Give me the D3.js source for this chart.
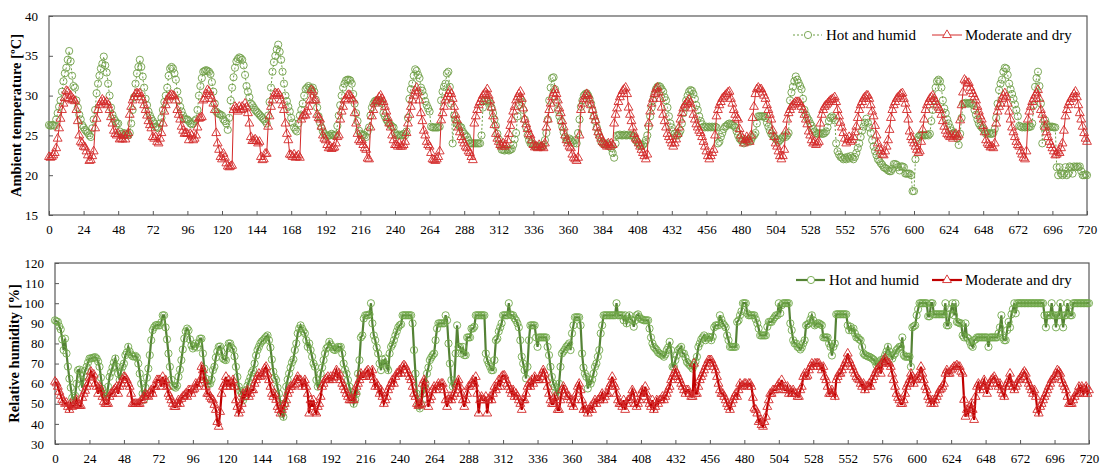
<!DOCTYPE html>
<html>
<head>
<meta charset="utf-8">
<script src="https://cdn.jsdelivr.net/npm/d3@7"></script>
<style>
  body { margin: 0; background: #fff; }
  text { font-family: "Liberation Serif", "Times New Roman", serif; }
</style>
</head>
<body>
<svg id="chart" width="1103" height="466"></svg>
<script>
// hourly values, index = hour (0..720)
const hourTicks = d3.range(0, 721, 24);
const tempTicks = [15, 20, 25, 30, 35, 40];
const rhTicks = [30, 40, 50, 60, 70, 80, 90, 100, 110, 120];
const seriesNames = ["Hot and humid", "Moderate and dry"];

const tempHotHumid = [
  26.3,26.2,26.3,26.3,26.2,27.0,27.8,28.6,29.4,30.5,31.8,32.8,33.5,34.5,35.6,34.3,32.5,31.2,31.0,29.4,28.5,27.6,27.0,26.3,
  26.0,25.7,25.5,25.3,25.0,24.8,25.9,27.0,28.2,30.3,31.5,32.5,33.4,34.0,34.9,33.8,32.9,31.5,30.0,28.5,27.6,27.1,26.8,26.5,
  26.5,25.5,25.2,25.0,25.3,25.1,25.2,25.0,25.3,26.5,28.2,29.8,31.5,32.8,33.6,34.5,33.6,32.4,31.0,29.6,28.8,28.0,27.5,27.1,
  26.8,26.5,26.1,26.0,25.9,26.5,27.2,28.2,29.2,30.0,31.0,32.5,33.4,33.6,33.4,32.8,32.0,30.5,29.4,28.6,28.0,27.5,27.1,27.0,
  27.0,26.8,26.5,26.4,26.5,26.8,27.0,28.2,30.0,31.2,32.2,33.0,33.1,33.2,33.1,33.0,32.7,31.7,30.5,29.0,28.0,27.8,27.7,27.6,
  27.5,27.0,26.8,26.5,25.7,27.2,29.4,31.0,32.3,33.5,34.3,34.6,34.8,34.7,34.5,33.8,32.6,31.2,30.5,29.8,29.0,28.8,28.5,28.2,
  28.0,27.8,27.6,27.4,27.2,27.0,26.8,26.5,27.5,29.2,31.0,33.0,34.2,35.0,35.8,36.4,35.5,34.5,33.0,31.5,30.0,29.3,28.6,28.0,
  27.2,26.6,26.0,25.7,25.5,26.5,27.5,28.2,29.0,30.0,30.8,31.0,31.2,31.0,30.8,31.0,30.5,29.5,28.5,27.4,26.6,26.0,25.5,25.2,
  25.0,24.9,25.0,25.0,25.2,25.0,25.0,25.1,26.2,27.5,28.8,30.0,31.0,31.5,31.9,32.0,32.0,31.9,31.5,30.2,29.0,27.8,26.8,25.6,
  25.2,25.0,25.1,25.0,24.8,25.5,26.0,27.5,28.5,29.0,29.3,29.4,29.3,29.4,29.2,29.0,27.8,27.4,27.0,26.7,26.5,26.3,26.1,26.0,
  25.3,25.0,25.0,25.1,25.0,25.0,25.2,25.0,25.5,27.2,29.6,30.8,31.5,32.5,33.3,33.1,32.6,32.2,31.0,30.6,30.0,29.3,28.8,28.4,
  28.0,26.1,26.0,26.0,26.0,26.0,26.0,26.1,29.4,30.5,31.1,31.5,32.8,33.0,31.1,29.0,24.0,27.5,27.0,26.5,26.3,26.1,26.0,25.5,
  25.2,25.0,24.8,24.4,24.0,24.0,24.0,24.0,24.0,24.0,24.0,24.0,25.0,28.5,29.4,29.4,29.3,29.4,29.0,28.5,27.8,27.0,26.2,25.2,
  24.5,23.8,23.2,23.2,23.1,23.2,23.2,23.1,23.2,23.3,23.8,24.5,25.3,27.4,28.8,29.6,29.2,28.2,27.0,26.0,25.0,24.4,24.0,24.0,
  23.8,23.6,23.6,23.6,23.7,23.6,23.6,23.8,24.4,25.3,27.0,29.4,31.0,32.2,32.3,30.8,29.2,28.2,27.4,26.8,26.1,25.4,24.8,24.4,
  24.4,24.6,24.4,24.2,24.0,24.4,24.0,25.3,27.0,28.6,29.4,30.0,30.2,30.3,30.0,29.6,29.0,28.2,27.4,26.8,26.0,25.3,24.8,24.2,
  24.0,24.0,23.8,24.0,23.8,23.6,23.4,22.8,22.2,24.0,25.0,25.0,25.1,25.0,25.0,25.1,25.0,25.0,25.1,25.0,25.0,25.0,24.8,24.4,
  24.2,24.0,23.8,23.6,23.8,24.0,24.4,25.0,26.1,27.4,28.5,29.4,30.2,30.8,31.1,31.2,31.1,30.8,30.5,29.8,29.4,28.5,27.4,26.5,
  26.0,25.5,25.2,25.0,25.0,25.2,25.6,26.5,27.8,28.6,29.4,30.0,30.5,30.7,30.6,30.2,29.6,28.8,28.2,27.4,26.8,26.4,26.1,26.0,
  26.1,26.0,26.1,26.0,26.1,26.0,26.1,26.0,24.0,24.2,24.8,25.3,25.8,26.1,26.2,26.4,26.5,26.4,26.3,26.2,26.0,25.5,25.0,24.6,
  24.4,24.2,24.0,24.4,24.2,24.4,24.2,24.4,24.8,25.0,25.3,26.5,27.4,27.4,27.4,27.4,27.4,27.2,26.6,26.1,25.6,25.2,25.0,24.8,
  24.6,24.4,24.2,24.4,24.6,24.8,25.0,24.8,25.0,25.3,29.4,30.4,31.1,31.8,32.4,32.0,31.6,31.2,30.8,29.6,28.2,27.6,27.2,26.9,
  26.5,26.2,25.8,25.5,25.3,25.2,25.2,25.3,25.2,25.2,25.3,25.5,26.0,26.8,27.2,27.4,27.2,26.9,24.0,23.0,22.6,22.3,22.2,22.0,
  22.2,22.0,22.3,22.1,22.4,22.2,22.0,22.3,22.8,23.4,24.0,24.8,25.6,26.1,26.6,27.1,26.6,26.0,25.3,24.4,23.6,23.0,22.5,22.0,
  21.8,21.5,21.3,21.0,20.9,20.8,20.6,20.5,20.5,20.8,21.4,21.4,21.3,21.0,20.6,21.1,21.1,21.0,20.2,20.2,20.2,20.2,20.0,18.0,
  18.0,22.0,24.4,24.8,25.0,25.0,25.1,25.0,25.0,25.1,25.0,25.2,26.8,28.2,29.4,31.0,31.8,32.0,31.8,31.0,29.4,28.4,27.8,27.0,
  26.5,26.0,25.6,25.3,25.2,25.0,24.6,23.8,25.2,27.2,29.0,29.0,29.1,29.0,29.0,29.1,29.0,28.8,28.2,27.6,27.0,26.5,26.2,26.0,
  25.8,25.5,25.2,25.2,25.3,25.2,25.2,25.3,25.8,27.2,29.0,30.7,31.5,32.0,33.0,33.5,33.4,32.6,31.5,30.8,30.2,29.6,28.9,28.2,
  27.4,26.2,26.1,26.0,26.1,26.0,26.1,26.0,26.1,26.1,26.5,28.8,31.1,32.2,33.0,31.2,29.0,24.0,26.0,26.9,26.4,26.1,26.0,26.1,
  26.1,26.0,26.0,21.0,20.0,21.0,20.2,20.0,20.2,21.0,20.0,20.2,21.1,21.0,20.2,21.1,21.0,21.1,21.0,21.1,20.5,20.0,20.0,20.1,20.0
];

const tempModDry = [
  22.3,22.2,22.3,22.5,22.8,23.4,24.6,25.9,27.1,28.2,29.0,29.7,30.6,30.5,29.6,30.0,29.4,29.5,29.3,28.2,26.8,25.0,24.2,24.0,
  23.6,23.5,23.0,22.5,21.8,21.9,22.4,23.0,25.9,27.1,28.2,28.8,29.2,29.5,29.3,29.0,29.2,28.8,28.2,27.3,26.5,25.6,25.2,25.0,
  25.2,24.5,24.6,24.5,25.0,24.5,25.0,25.3,27.6,28.6,29.4,29.8,30.2,30.3,30.2,30.3,29.8,29.4,28.8,28.2,27.5,26.8,26.3,25.9,
  24.8,24.6,24.8,24.2,24.0,24.6,25.3,26.5,28.0,28.8,29.4,29.8,30.0,30.1,30.0,29.9,29.4,28.2,27.6,27.0,26.1,25.6,25.2,25.3,
  25.2,24.4,25.2,25.0,24.4,24.6,25.0,26.0,27.1,27.2,27.3,29.4,29.6,30.2,30.7,30.5,30.0,29.6,29.0,28.2,25.3,24.0,23.2,22.3,
  22.0,22.7,22.2,21.5,21.1,21.0,21.1,21.2,28.2,28.6,28.4,28.0,28.6,28.2,28.6,28.3,29.0,28.5,27.8,26.5,24.8,24.3,24.3,24.5,
  24.3,24.0,24.2,22.3,21.9,22.0,22.7,22.7,26.1,27.4,28.6,29.4,30.0,30.3,30.2,30.3,30.0,29.4,28.8,28.2,26.5,25.2,24.4,22.6,
  22.5,22.3,22.6,22.2,22.3,22.5,22.2,27.0,27.4,27.6,27.5,28.0,28.6,29.4,30.7,30.5,29.4,29.4,27.6,27.2,27.0,26.1,25.0,24.6,
  24.4,23.8,23.4,23.6,23.3,23.4,23.5,24.0,24.8,25.0,27.0,28.0,28.6,29.4,29.6,30.0,30.1,30.0,29.6,29.4,27.8,26.5,25.2,24.4,
  24.2,24.4,23.8,23.4,23.2,22.1,22.0,26.0,27.4,28.2,29.0,29.3,29.4,29.8,30.0,29.6,29.2,28.6,28.0,27.2,26.5,26.0,25.0,24.4,
  23.8,23.8,23.6,24.0,23.6,23.6,23.8,24.2,25.3,26.5,27.6,28.6,29.4,30.0,30.6,31.0,30.4,29.4,27.8,26.8,25.6,25.0,24.2,23.8,
  23.6,22.8,22.0,21.9,21.8,22.0,22.3,23.0,26.9,27.8,28.6,29.4,29.8,30.2,30.6,30.2,29.6,28.6,27.6,26.9,26.0,25.4,24.8,24.4,
  24.0,23.6,23.4,23.0,22.8,22.3,21.9,26.5,27.4,28.2,28.8,29.2,29.6,30.0,30.2,30.4,30.8,30.0,29.4,28.5,27.4,26.3,25.2,24.6,
  24.2,23.8,23.6,24.0,23.6,23.8,24.4,25.2,26.2,27.0,28.0,28.6,29.4,29.8,30.2,30.5,29.6,28.4,27.0,26.4,25.8,25.2,25.0,24.4,
  23.8,23.5,23.6,23.4,23.8,23.5,23.6,23.4,24.0,26.0,27.0,28.2,29.0,29.8,30.3,30.7,30.2,29.4,28.4,27.8,26.8,26.0,25.0,24.4,
  24.0,23.6,23.4,22.6,22.2,22.0,21.8,22.2,25.0,28.2,29.0,29.6,30.0,30.2,30.0,29.4,28.8,28.2,27.4,26.9,26.0,25.4,25.0,24.6,
  24.2,24.0,23.8,23.6,24.0,23.6,24.0,23.8,26.5,27.6,28.4,29.2,29.8,30.2,30.6,30.8,31.0,30.2,28.5,27.6,26.8,26.0,25.2,24.6,
  24.4,24.0,23.6,23.2,22.8,22.4,22.0,22.6,26.5,28.0,29.0,29.6,30.2,30.8,31.0,30.4,29.6,28.5,27.6,26.8,26.0,25.2,24.8,24.4,
  24.0,23.6,24.0,24.5,25.2,26.0,27.0,27.8,28.4,28.8,29.0,29.2,29.5,29.0,28.4,27.6,27.0,26.4,26.0,25.6,25.3,24.8,24.2,23.6,
  23.0,22.4,22.0,22.4,22.8,23.2,25.0,27.4,28.2,28.8,29.2,29.6,29.8,30.0,30.2,30.4,30.5,29.6,29.0,28.2,27.6,27.2,27.0,25.8,
  25.0,24.6,24.0,24.4,24.8,24.5,24.2,25.0,27.2,28.6,30.2,30.8,31.0,30.8,30.8,30.4,30.0,29.6,28.8,28.2,27.6,27.0,25.6,24.8,
  24.0,23.6,23.0,22.4,22.0,22.4,23.2,25.5,27.0,27.8,28.2,28.6,28.8,29.0,29.2,29.2,29.2,29.0,28.6,28.2,27.6,27.0,26.4,25.5,
  25.0,24.4,24.0,24.2,23.8,24.0,24.2,26.5,27.6,28.2,28.6,28.8,29.0,29.2,29.4,29.5,29.6,29.8,29.2,28.2,27.4,26.6,26.0,25.3,
  24.6,24.0,24.4,24.8,24.2,24.4,24.8,25.4,26.1,27.2,28.2,28.8,29.2,29.6,29.8,30.0,30.0,29.6,28.8,28.0,27.4,26.2,25.0,24.0,
  23.4,23.0,22.6,22.5,23.0,23.6,24.4,25.7,27.2,28.2,28.8,29.2,29.6,29.8,30.0,30.2,30.3,29.6,29.0,28.2,27.0,25.5,24.8,24.4,
  24.0,23.6,23.2,22.8,23.0,24.2,25.7,27.0,28.2,28.8,29.2,29.6,29.8,30.0,29.6,29.2,28.8,28.5,28.2,27.6,26.8,26.1,25.6,25.2,
  25.0,24.8,25.0,24.6,25.0,25.2,24.8,25.0,26.9,28.8,30.4,32.0,31.8,31.5,31.6,31.0,30.6,30.2,29.8,29.4,28.6,28.0,27.4,27.0,
  26.2,25.4,24.4,24.0,23.8,23.5,23.6,23.4,24.0,26.5,28.0,28.6,29.0,29.6,30.0,30.3,29.8,29.0,28.0,27.0,26.0,25.4,24.8,24.2,
  23.8,23.6,23.0,22.6,22.2,22.0,23.0,27.0,28.0,28.6,29.2,29.6,30.0,30.3,30.7,29.6,28.2,27.6,27.0,26.1,25.4,24.8,24.2,23.8,
  23.4,23.0,22.5,22.6,23.0,22.8,23.4,24.0,25.6,27.4,28.2,28.8,29.2,29.6,29.8,30.2,30.5,29.8,28.8,27.8,27.0,26.1,25.3,24.6,24.2
];

const rhHotHumid = [
  91.5,91.0,90.7,88.5,87.0,82.0,76.7,82.4,75.0,68.5,62.5,58.0,53.0,51.8,54.0,60.0,66.7,67.0,62.0,58.0,64.0,66.5,68.4,70.5,
  72.5,72.5,72.8,73.0,73.2,72.5,71.0,68.4,63.0,57.5,55.0,53.5,53.5,58.5,63.4,65.5,68.0,70.5,72.5,68.4,65.0,61.8,66.0,68.4,
  70.0,74.2,75.5,78.3,76.0,74.5,73.6,73.5,73.8,73.0,70.0,65.0,60.0,55.0,52.0,58.0,63.0,67.5,74.2,81.6,86.6,88.0,89.0,89.2,
  89.0,89.0,90.5,94.0,94.0,88.0,82.0,75.0,68.4,62.0,59.0,58.5,58.0,59.0,63.4,67.0,71.7,77.0,82.4,86.0,87.4,86.5,82.0,79.0,
  77.5,78.5,80.0,78.0,80.0,82.4,82.4,75.0,67.5,62.5,60.0,60.0,60.0,62.0,66.7,68.4,73.0,76.0,78.3,78.5,76.0,72.5,72.0,71.7,
  77.5,80.0,80.0,78.0,77.0,73.6,68.4,63.4,58.5,56.5,55.0,51.8,53.5,56.8,59.0,61.0,63.0,65.5,66.7,70.0,74.0,76.7,78.3,80.0,
  81.0,81.6,82.5,83.3,84.0,81.6,78.0,72.0,66.0,63.0,61.8,58.0,55.0,50.0,45.0,43.5,50.0,58.5,62.0,65.0,68.0,70.5,72.0,76.7,
  80.0,85.0,87.4,89.0,87.4,86.0,85.0,81.6,78.3,80.0,76.7,73.4,70.0,68.4,61.8,58.5,60.0,65.0,68.0,71.7,75.0,77.5,78.3,80.8,
  79.5,78.3,77.0,76.7,77.5,78.3,78.0,78.3,75.0,70.0,67.0,65.0,61.8,58.5,56.0,53.5,50.0,52.0,55.0,65.0,71.7,83.0,84.0,92.4,
  94.0,94.0,94.0,94.5,100.0,90.0,84.0,81.6,78.0,75.0,70.0,66.7,72.0,70.0,72.5,68.0,66.7,75.0,78.3,79.5,81.6,84.0,86.0,88.0,
  89.0,89.5,94.0,94.0,94.0,94.0,94.0,94.0,94.0,90.0,76.7,65.0,55.0,49.0,47.7,50.0,55.0,58.0,60.0,65.0,68.0,71.7,73.0,74.2,
  75.0,81.6,87.4,90.0,90.0,90.0,90.0,90.0,94.0,91.5,80.0,70.0,61.8,58.5,60.0,75.0,89.0,78.3,78.3,75.0,78.3,74.2,74.2,83.0,
  83.0,83.0,87.4,87.4,88.3,94.0,94.0,94.0,94.0,94.0,94.0,94.0,75.0,71.7,70.0,68.4,66.7,66.7,71.7,81.6,82.4,86.0,88.0,90.0,
  94.0,94.0,94.0,94.0,100.0,94.5,94.0,94.0,92.5,91.5,90.0,88.0,81.6,73.4,70.0,66.7,62.6,68.4,81.6,89.0,89.0,89.0,89.0,83.0,
  78.3,83.0,83.0,83.0,83.0,83.0,83.0,78.3,74.2,68.4,63.4,60.0,58.5,56.0,54.3,60.0,68.4,75.0,76.0,77.0,78.3,79.0,80.0,76.7,
  85.0,89.0,93.0,93.0,93.0,93.0,89.0,75.0,68.0,65.0,63.4,57.6,61.8,60.0,62.0,65.0,68.4,70.0,73.4,76.7,85.0,89.0,94.0,94.0,
  94.0,94.0,94.0,94.0,94.0,94.0,94.0,100.0,94.0,94.0,94.0,94.0,91.5,94.0,90.0,92.0,94.0,92.0,91.5,88.3,91.5,94.0,94.5,93.0,
  92.0,92.0,91.5,91.5,91.5,91.5,87.4,83.0,80.0,78.3,77.5,76.7,75.5,75.0,74.5,74.2,73.4,74.5,76.7,78.0,80.8,76.7,68.4,68.4,
  71.7,74.0,76.7,77.5,78.3,75.0,75.0,73.0,70.8,70.0,69.2,68.5,67.5,69.2,71.0,73.4,78.3,80.0,82.0,83.0,84.0,81.6,82.5,83.3,
  83.0,81.6,83.3,88.0,89.0,89.0,89.0,94.0,92.0,90.0,89.0,88.0,84.0,81.6,78.3,78.3,78.3,78.3,78.3,90.7,91.5,94.0,96.0,100.0,
  100.0,100.0,95.0,94.0,94.0,94.0,94.0,94.0,92.0,90.0,87.4,84.0,84.0,84.0,84.0,84.0,88.3,90.7,90.7,90.7,92.0,93.0,94.0,94.0,
  100.0,95.0,99.0,100.0,100.0,100.0,100.0,100.0,90.0,86.6,81.6,80.0,80.0,78.3,78.0,77.0,78.0,80.0,81.6,89.0,89.5,90.0,92.0,94.0,
  91.5,89.0,89.5,90.0,90.0,89.5,89.0,83.0,83.0,83.0,83.0,80.0,78.3,74.0,78.3,80.0,94.5,94.5,94.5,94.5,94.5,94.5,94.5,94.5,
  89.0,86.6,88.3,86.6,87.4,85.0,83.0,83.0,82.0,81.6,78.3,75.0,74.2,74.0,73.5,73.4,73.0,72.5,72.0,71.0,69.2,70.0,71.0,71.7,
  71.0,72.5,74.2,76.0,78.3,76.0,74.0,72.5,74.2,75.0,76.7,77.5,78.3,78.3,83.0,74.2,73.4,73.4,73.4,73.4,68.4,88.0,88.5,89.0,
  94.0,97.0,100.0,100.0,100.0,100.0,100.0,100.0,93.5,93.5,100.0,100.0,94.5,94.5,94.5,94.5,94.5,94.5,94.5,94.5,100.0,89.0,89.0,94.5,
  97.0,100.0,94.0,100.0,90.7,90.5,90.0,90.0,84.0,83.0,90.0,83.0,82.4,80.8,79.0,78.3,81.6,82.0,83.0,83.0,83.0,83.0,83.0,83.0,
  83.0,83.0,78.3,83.0,83.0,83.0,83.0,83.0,83.0,85.0,88.0,94.0,83.0,81.6,81.6,86.6,90.7,88.0,94.5,97.0,100.0,95.0,100.0,100.0,
  100.0,100.0,100.0,100.0,100.0,100.0,100.0,100.0,100.0,100.0,100.0,100.0,100.0,100.0,100.0,100.0,100.0,94.0,88.0,94.0,94.0,94.0,100.0,94.0,
  94.0,88.0,94.0,94.0,100.0,94.0,88.0,94.0,94.0,100.0,96.0,94.0,94.0,100.0,100.0,100.0,100.0,100.0,100.0,100.0,100.0,100.0,100.0,100.0,100.0
];

const rhModDry = [
  61.0,60.2,58.5,56.0,54.0,52.0,51.0,50.0,50.5,48.5,47.0,50.0,48.5,49.0,49.5,52.0,49.5,49.0,49.0,53.0,55.0,56.5,58.5,60.0,
  63.0,66.0,63.5,64.5,60.0,58.5,55.0,58.5,56.8,53.5,51.0,50.0,50.0,50.0,53.5,55.0,55.0,56.8,57.5,58.5,55.0,58.5,60.0,61.8,
  63.4,63.0,61.8,60.0,58.5,55.0,50.0,50.0,50.0,50.0,50.0,50.0,51.8,51.8,53.5,55.0,54.0,53.5,55.0,56.8,55.0,58.5,58.5,61.8,
  61.8,61.8,58.5,63.4,60.0,61.8,58.5,55.0,53.5,51.8,50.0,48.5,48.5,50.0,51.8,50.0,52.5,53.5,54.0,55.0,53.5,56.8,56.8,55.0,
  56.8,57.5,60.0,58.5,60.0,61.8,68.4,66.7,61.8,58.5,55.0,55.0,53.5,52.5,51.8,49.5,47.0,41.0,38.6,46.0,55.0,58.5,60.0,63.4,
  58.5,61.8,58.5,60.0,61.8,58.5,51.8,48.5,45.2,47.0,50.0,55.0,53.5,55.0,56.8,53.5,55.0,56.8,56.8,60.0,61.8,63.4,65.0,63.4,
  64.0,65.0,67.5,68.4,65.0,61.8,58.5,55.0,53.5,55.0,52.0,48.5,47.0,45.2,47.0,48.5,50.0,51.8,55.0,56.8,58.5,58.5,59.5,60.0,
  61.8,63.4,61.8,61.8,58.5,60.0,61.8,58.5,55.0,45.2,51.8,48.5,51.8,46.0,45.2,48.5,50.0,53.5,58.5,60.0,61.8,62.5,63.4,61.8,
  63.4,61.8,63.0,65.0,66.7,63.4,65.0,61.8,60.0,58.5,56.8,55.0,53.5,51.8,51.8,52.0,51.8,56.0,58.5,60.0,61.8,65.0,63.4,63.4,
  65.0,66.0,66.7,63.4,65.0,66.7,61.8,58.5,60.0,58.5,55.0,56.8,53.5,50.0,51.8,53.5,56.8,58.5,60.0,61.8,60.0,63.4,65.0,65.0,
  66.7,65.0,68.4,69.2,68.4,66.7,65.0,63.4,61.8,58.5,55.0,53.5,50.0,49.0,49.5,50.0,60.0,61.8,58.5,55.0,48.5,51.8,53.5,56.8,
  58.5,56.8,58.5,60.0,58.5,60.0,60.0,56.8,51.8,48.5,51.8,53.5,51.8,53.5,55.0,56.8,60.0,61.8,58.5,55.0,51.8,48.5,51.8,55.0,
  58.5,58.5,60.0,61.8,60.0,63.4,55.0,45.2,51.8,53.5,51.8,51.8,53.5,45.2,51.8,53.5,51.8,55.0,58.5,56.8,58.5,61.8,58.5,63.4,
  64.0,64.0,61.8,60.0,58.5,56.8,55.0,56.8,53.5,55.0,53.5,51.8,50.0,47.0,51.8,51.8,55.0,58.5,60.0,58.5,61.8,60.0,63.4,61.8,
  61.8,61.8,63.4,65.0,66.7,65.0,61.8,58.5,55.0,51.8,50.0,50.0,53.5,51.8,47.0,47.0,51.8,56.8,58.5,56.8,55.0,53.5,53.5,51.8,
  50.0,48.5,51.8,55.0,58.5,60.0,56.8,51.8,47.0,48.5,47.0,45.2,47.0,48.5,47.0,50.0,51.8,50.0,51.8,51.8,53.5,55.0,51.8,53.5,
  55.0,55.0,58.5,60.0,63.4,60.0,58.5,55.0,51.8,50.0,50.0,48.5,51.8,47.0,50.0,51.8,51.8,53.5,56.8,55.0,50.0,48.5,50.0,51.8,
  55.0,56.8,53.5,58.5,55.0,51.8,50.0,48.5,51.8,47.0,48.5,51.8,50.0,51.8,51.8,53.5,51.8,53.5,55.0,57.0,58.5,61.8,63.4,65.0,
  66.7,65.0,63.4,61.8,60.0,58.5,56.8,55.0,56.8,56.8,55.0,53.5,53.5,70.0,55.0,55.0,58.5,61.8,63.4,65.0,66.7,68.4,70.0,71.7,
  71.7,71.7,70.0,68.4,66.7,63.4,60.0,56.8,55.0,55.0,53.5,51.8,50.0,48.5,47.0,50.0,51.8,53.5,55.0,53.5,56.8,60.0,
  58.5,59.0,60.0,60.0,58.5,60.0,60.0,58.5,53.0,47.7,47.0,45.2,41.0,42.0,39.5,38.6,41.0,43.6,48.5,51.8,55.0,55.0,56.8,56.8,
  56.8,58.5,60.0,58.5,61.8,58.5,56.8,56.8,58.5,55.0,56.8,55.0,56.8,55.0,55.0,53.5,53.5,56.8,58.5,63.4,65.0,63.4,64.0,66.7,
  68.4,70.0,68.4,70.0,70.0,70.0,70.0,68.4,66.7,68.4,63.4,61.8,58.5,55.0,55.0,56.8,55.0,53.5,61.8,63.4,65.0,65.0,66.7,68.4,
  70.0,71.7,75.0,71.7,70.0,68.4,66.7,65.0,63.4,62.5,61.8,60.0,58.5,60.0,56.8,58.5,58.5,60.0,58.5,61.8,63.4,65.0,66.7,67.5,
  68.4,65.0,70.0,71.7,72.5,70.8,70.0,70.0,68.4,65.0,61.8,58.5,55.0,53.0,51.8,50.0,50.0,51.8,55.0,58.5,60.0,61.8,65.0,63.4,
  60.0,61.8,62.5,63.4,65.0,68.4,65.0,61.8,58.5,56.8,53.5,51.8,50.0,51.8,50.0,51.8,53.5,55.0,56.8,57.5,58.5,60.0,65.0,66.7,
  65.0,65.0,66.7,67.5,68.4,68.4,69.2,68.4,68.4,66.0,65.0,52.0,43.6,47.0,45.2,48.0,50.0,47.0,42.0,53.5,58.5,60.0,56.8,58.5,
  60.0,61.8,58.5,55.0,58.5,60.0,61.8,62.5,63.4,61.8,60.0,58.5,60.0,56.8,55.0,53.5,58.5,60.0,61.8,65.0,60.0,58.5,56.8,58.5,
  60.0,61.8,62.5,63.4,65.0,66.0,65.0,61.8,60.0,58.5,56.8,55.0,56.8,53.5,47.0,45.2,48.5,50.0,51.8,53.5,55.0,56.8,58.5,60.0,
  61.8,62.5,63.4,65.0,66.7,66.0,65.0,61.8,60.0,58.5,56.8,53.5,50.0,50.0,50.0,51.8,53.5,55.0,55.0,58.5,56.8,58.5,55.0,56.8,58.5,55.0,56.8
];

const svg = d3.select("#chart");
const axisColor = "#595959";

function trianglePath(size) {
  return d3.symbol().type(d3.symbolTriangle).size(size)();
}

function drawPanel(p) {
  const x = d3.scaleLinear().domain([0, 720]).range([p.left, p.right]);
  const y = d3.scaleLinear().domain(p.yDomain).range([p.bottom, p.top]);
  const g = svg.append("g");

  // axes with inward ticks
  const xAxis = g.append("g")
    .attr("transform", `translate(0,${p.bottom})`)
    .call(d3.axisBottom(x).tickValues(hourTicks).tickSizeInner(-4).tickSizeOuter(0).tickPadding(10));
  const yAxis = g.append("g")
    .attr("transform", `translate(${p.left},0)`)
    .call(d3.axisLeft(y).tickValues(p.yTicks).tickSizeInner(-4).tickSizeOuter(0).tickPadding(11));
  [xAxis, yAxis].forEach(a => {
    a.select(".domain").remove();
    a.selectAll("line").attr("stroke", axisColor);
    a.selectAll("text").attr("font-size", 13).attr("fill", "#000")
      .style("font-family", "'Liberation Serif', serif");
  });

  g.append("rect")
    .attr("x", p.left).attr("y", p.top)
    .attr("width", p.right - p.left).attr("height", p.bottom - p.top)
    .attr("fill", "none").attr("stroke", axisColor).attr("stroke-width", 1.2);

  g.append("text")
    .attr("transform", `translate(${p.titleX},${(p.top + p.bottom) / 2}) rotate(-90)`)
    .attr("text-anchor", "middle").attr("dy", "0.35em")
    .attr("font-size", 14.5).attr("font-weight", "bold")
    .text(p.title);

  const line = d3.line().x((d, i) => x(i)).y(d => y(d));

  // hot and humid
  g.append("path").datum(p.hh)
    .attr("fill", "none").attr("stroke", p.hhLine)
    .attr("stroke-width", p.lineWidth)
    .attr("stroke-dasharray", p.dashed ? "2,2" : null)
    .attr("d", line);
  g.append("g").selectAll("circle").data(p.hh).join("circle")
    .attr("cx", (d, i) => x(i)).attr("cy", d => y(d)).attr("r", 3.6)
    .attr("fill", "none").attr("stroke", p.hhMarker).attr("stroke-width", 0.9);

  // moderate and dry
  g.append("path").datum(p.md)
    .attr("fill", "none").attr("stroke", p.mdLine)
    .attr("stroke-width", p.lineWidth)
    .attr("d", line);
  const tri = trianglePath(34);
  g.append("g").selectAll("path").data(p.md).join("path")
    .attr("d", tri)
    .attr("transform", (d, i) => `translate(${x(i)},${y(d)})`)
    .attr("fill", "none").attr("stroke", p.mdMarker).attr("stroke-width", 0.9);

  // legend
  const lg = g.append("g");
  const ly = p.legendY;
  lg.append("line").attr("x1", p.legendX[0]).attr("x2", p.legendX[0] + 29)
    .attr("y1", ly).attr("y2", ly).attr("stroke", p.hhLine)
    .attr("stroke-width", p.lineWidth).attr("stroke-dasharray", p.dashed ? "2,2" : null);
  lg.append("circle").attr("cx", p.legendX[0] + 15).attr("cy", ly).attr("r", 3.6)
    .attr("fill", "#fff").attr("stroke", p.hhMarker).attr("stroke-width", 0.9);
  lg.append("text").attr("x", p.legendX[0] + 33).attr("y", ly + 5)
    .attr("font-size", 15).text(seriesNames[0]);
  lg.append("line").attr("x1", p.legendX[1]).attr("x2", p.legendX[1] + 30)
    .attr("y1", ly).attr("y2", ly).attr("stroke", p.mdLine).attr("stroke-width", p.lineWidth);
  lg.append("path").attr("d", tri)
    .attr("transform", `translate(${p.legendX[1] + 15},${ly})`)
    .attr("fill", "#fff").attr("stroke", p.mdMarker).attr("stroke-width", 0.9);
  lg.append("text").attr("x", p.legendX[1] + 33).attr("y", ly + 5)
    .attr("font-size", 15).text(seriesNames[1]);
}

drawPanel({
  left: 49, right: 1087, top: 16, bottom: 215,
  yDomain: [15, 40], yTicks: tempTicks, titleX: 16,
  title: "Ambient temperature [ºC]",
  hh: tempHotHumid, md: tempModDry,
  hhLine: "#6f9f47", hhMarker: "#6f9f47", mdLine: "#d42a2a", mdMarker: "#d42a2a",
  lineWidth: 1, dashed: true,
  legendX: [793, 932], legendY: 35
});

drawPanel({
  left: 55, right: 1089, top: 263, bottom: 444,
  yDomain: [30, 120], yTicks: rhTicks, titleX: 14,
  title: "Relative humidity [%]",
  hh: rhHotHumid, md: rhModDry,
  hhLine: "#548235", hhMarker: "#70a84a", mdLine: "#c00000", mdMarker: "#d42a2a",
  lineWidth: 2.2, dashed: false,
  legendX: [796, 932], legendY: 280
});
</script>
</body>
</html>
